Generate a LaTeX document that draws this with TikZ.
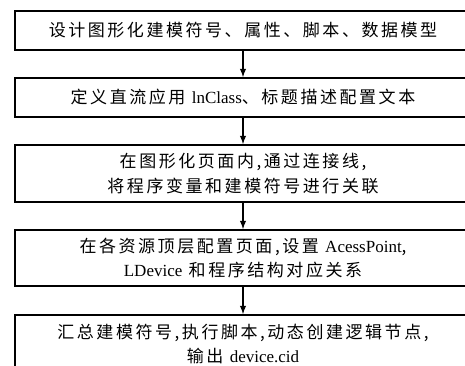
\documentclass[tikz,border=0pt]{standalone}
\usepackage{fontspec}
\setmainfont{Liberation Serif}
\newfontfamily\cjk[LetterSpace=15]{Noto Sans CJK SC}
\usetikzlibrary{arrows}

\tikzset{
  stepbox/.style={draw, line width=1.8pt, minimum width=456pt, minimum height=39pt,
    align=center, inner sep=2pt, font=\cjk\fontsize{17pt}{24.5pt}\selectfont},
  tallbox/.style={stepbox, minimum height=57pt},
  flow/.style={line width=1.8pt, -latex}
}

\begin{document}
\begin{tikzpicture}
  \useasboundingbox (0,0) rectangle (465pt,366pt);
  \node[stepbox] (design) at (243pt,335.5pt) {设计图形化建模符号、属性、脚本、数据模型};
  \node[stepbox] (define) at (243pt,268.5pt) {定义直流应用 {\rmfamily lnClass}、标题描述配置文本};
  \node[tallbox] (link) at (243pt,192.5pt) {在图形化页面内,通过连接线,\\将程序变量和建模符号进行关联};
  \node[tallbox, minimum height=56pt] (config) at (243pt,108pt) {在各资源顶层配置页面,设置 {\rmfamily AcessPoint},\\{\rmfamily LDevice} 和程序结构对应关系};
  \node[tallbox, minimum height=58pt] (output) at (243pt,22pt) {汇总建模符号,执行脚本,动态创建逻辑节点,\\输出 {\rmfamily device.cid}};
  \draw[flow] (design) -- (define);
  \draw[flow] (define) -- (link);
  \draw[flow] (link) -- (config);
  \draw[flow] (config) -- (output);
\end{tikzpicture}
\end{document}
